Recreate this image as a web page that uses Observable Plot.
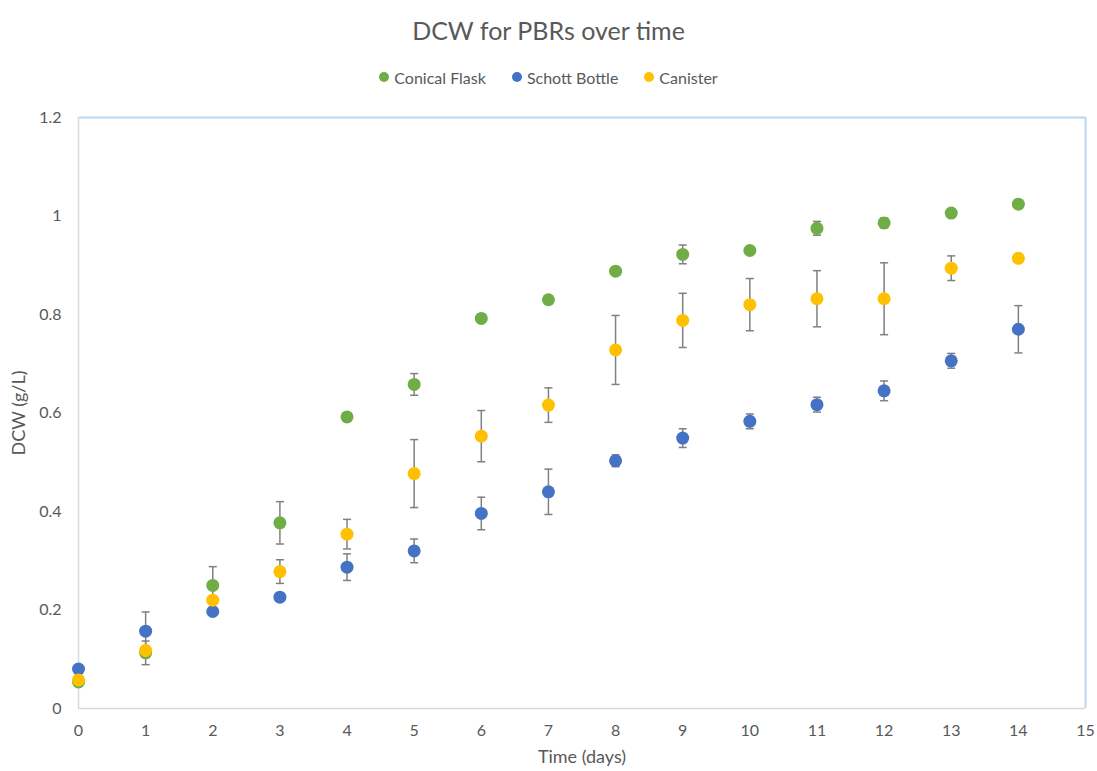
<!DOCTYPE html>
<html>
<head>
<meta charset="utf-8">
<script src="https://cdn.jsdelivr.net/npm/d3@7"></script>
<script src="https://cdn.jsdelivr.net/npm/@observablehq/plot@0.6"></script>
<style>
  body { margin: 0; background: #fff; font-family: Lato, "Liberation Sans", sans-serif; }
  #title { height: 58px; line-height: 60px; text-align: center; font-size: 25px; color: #595959; }
  #legend { height: 38px; display: flex; justify-content: center; align-items: center; gap: 26px; font-size: 16px; color: #595959; }
  #legend span.item { display: flex; align-items: center; gap: 5px; }
  #legend span.sw { width: 10px; height: 10px; border-radius: 50%; display: inline-block; }
</style>
</head>
<body>
<div id="title">DCW for PBRs over time</div>
<div id="legend"></div>
<div id="chart"></div>
<script>
const days = [0,1,2,3,4,5,6,7,8,9,10,11,12,13,14];
const seriesNames = ["Conical Flask", "Schott Bottle", "Canister"];
const seriesColors = ["#70AD47", "#4472C4", "#FFC000"];
const conicalFlask = [0.054,0.113,0.250,0.377,0.592,0.658,0.792,0.830,0.888,0.922,0.930,0.975,0.986,1.006,1.024];
const conicalFlaskErr = [0.004,0.024,0.038,0.043,0.006,0.022,0.008,0.004,0.005,0.019,0.005,0.014,0.010,0.006,0.004];
const schottBottle = [0.080,0.157,0.197,0.226,0.287,0.320,0.396,0.440,0.503,0.549,0.583,0.617,0.645,0.706,0.770];
const schottBottleErr = [0.004,0.039,0.005,0.008,0.027,0.024,0.033,0.046,0.012,0.019,0.015,0.015,0.020,0.015,0.048];
const canister = [0.058,0.118,0.220,0.278,0.354,0.477,0.553,0.616,0.728,0.788,0.820,0.832,0.832,0.894,0.914];
const canisterErr = [0.004,0.004,0.004,0.024,0.030,0.069,0.052,0.035,0.070,0.055,0.053,0.057,0.073,0.025,0.003];
const xTicks = [0,1,2,3,4,5,6,7,8,9,10,11,12,13,14,15];
const yTicks = [0,0.2,0.4,0.6,0.8,1,1.2];

const allValues = [conicalFlask, schottBottle, canister];
const allErrs = [conicalFlaskErr, schottBottleErr, canisterErr];
const rows = [];
seriesNames.forEach((name, si) => {
  days.forEach((d, i) => {
    rows.push({series: name, day: d, value: allValues[si][i], err: allErrs[si][i]});
  });
});

const legend = document.getElementById("legend");
seriesNames.forEach((n, i) => {
  const it = document.createElement("span");
  it.className = "item";
  it.innerHTML = `<span class="sw" style="background:${seriesColors[i]}"></span>${n}`;
  legend.appendChild(it);
});

const capHalf = 0.06;
const errColor = "#808080";

const chart = Plot.plot({
  width: 1097,
  height: 675,
  marginTop: 21,
  marginLeft: 78,
  marginRight: 12,
  marginBottom: 63,
  style: { fontFamily: "Lato, 'Liberation Sans', sans-serif", fontSize: "16px", color: "#595959", background: "#fff" },
  x: { domain: [0, 15] },
  y: { domain: [0, 1.2] },
  color: { domain: seriesNames, range: seriesColors },
  marks: [
    Plot.ruleY([1.2], { stroke: "#BDD7EE", strokeWidth: 2 }),
    Plot.ruleX([15], { stroke: "#BDD7EE", strokeWidth: 2 }),
    Plot.ruleY([0], { stroke: "#D9D9D9", strokeWidth: 1.5 }),
    Plot.ruleX([0], { stroke: "#D9D9D9", strokeWidth: 1.5 }),
    Plot.axisX({ ticks: xTicks, tickSize: 0, tickPadding: 16, tickFormat: d => String(d), label: null, fontSize: 16 }),
    Plot.axisX({ ticks: [], label: "Time (days)", labelAnchor: "center", labelOffset: 54, labelArrow: "none", fontSize: 18 }),
    Plot.axisY({ ticks: yTicks, tickSize: 0, tickPadding: 17, tickFormat: d3.format("~g"), label: null, fontSize: 16 }),
    Plot.axisY({ ticks: [], label: "DCW (g/L)", labelAnchor: "center", labelOffset: 66, labelArrow: "none", fontSize: 18 }),
    Plot.ruleX(rows, { x: "day", y1: d => d.value - d.err, y2: d => d.value + d.err, stroke: errColor, strokeWidth: 1.5 }),
    Plot.link(rows, { x1: d => d.day - capHalf, x2: d => d.day + capHalf, y1: d => d.value + d.err, y2: d => d.value + d.err, stroke: errColor, strokeWidth: 1.5 }),
    Plot.link(rows, { x1: d => d.day - capHalf, x2: d => d.day + capHalf, y1: d => d.value - d.err, y2: d => d.value - d.err, stroke: errColor, strokeWidth: 1.5 }),
    Plot.dot(rows, { x: "day", y: "value", fill: "series", r: 6.5, stroke: "none" })
  ]
});
document.getElementById("chart").appendChild(chart);
</script>
</body>
</html>
